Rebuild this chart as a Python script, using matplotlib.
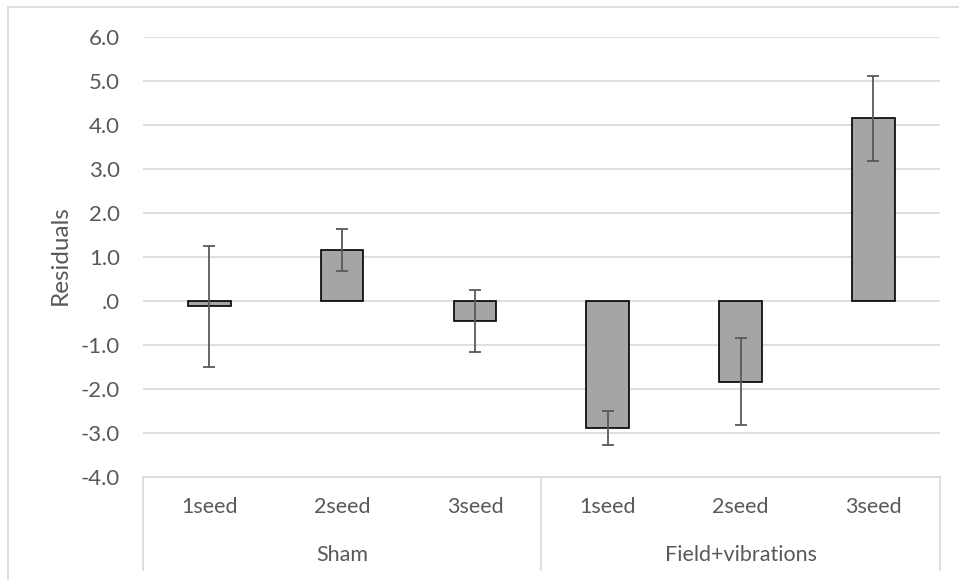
import matplotlib
matplotlib.use("Agg")
import matplotlib.pyplot as plt
from matplotlib.patches import Rectangle
from matplotlib.ticker import FuncFormatter
import numpy as np

plt.rcParams["font.family"] = ["Lato", "DejaVu Sans"]

groups = ["Sham", "Field+vibrations"]
seeds = ["1seed", "2seed", "3seed", "1seed", "2seed", "3seed"]
residuals = [-0.12, 1.16, -0.45, -2.88, -1.83, 4.15]
errors = [1.37, 0.48, 0.70, 0.385, 0.985, 0.965]

TEXT = "#595959"
GRID = "#d9d9d9"


def _fmt(v, pos):
    s = f"{v:.1f}"
    if s in ("0.0", "-0.0"):
        return ".0"
    return s


fig = plt.figure(figsize=(9.59, 5.80), dpi=100)
ax = fig.add_axes([143 / 959, 103 / 580, 796.7 / 959, 440 / 580])

# outer chart frame (cropped at right/bottom in the reference)
fig.patches.append(Rectangle((8 / 959, -0.1), 1.2, 1 - 7 / 580 + 0.1,
                             transform=fig.transFigure, fill=False,
                             edgecolor=GRID, linewidth=1.2))

x = np.arange(len(seeds))
ax.bar(x, residuals, width=0.32, color="#a5a5a5", edgecolor="black",
       linewidth=1.2, zorder=3)
ax.errorbar(x, residuals, yerr=errors, fmt="none", ecolor=TEXT,
            elinewidth=1.3, capsize=4.4, capthick=1.3, zorder=4)

ax.set_xlim(-0.5, len(seeds) - 0.5)
ax.set_ylim(-4, 6)
ax.set_yticks(np.arange(-4, 7, 1))
ax.yaxis.set_major_formatter(FuncFormatter(_fmt))
ax.grid(axis="y", color=GRID, linewidth=1.2, zorder=0)
ax.set_axisbelow(True)
ax.tick_params(axis="y", length=0, pad=16.5, labelsize=16, labelcolor=TEXT)
ax.set_xticks([])
for side in ("top", "right", "left"):
    ax.spines[side].set_visible(False)
ax.spines["bottom"].set_color(GRID)
ax.spines["bottom"].set_linewidth(1.2)

# multi-level category axis
depth = (570 - 477) / 440
for xa in (0, 0.5, 1):
    ax.plot([xa, xa], [0, -depth], transform=ax.transAxes, color=GRID,
            linewidth=1.2, clip_on=False)
for i, s in enumerate(seeds):
    ax.text((i + 0.5) / len(seeds), -30 / 440, s, transform=ax.transAxes,
            ha="center", va="center", fontsize=15.5, color=TEXT)
for j, g in enumerate(groups):
    ax.text(0.25 + 0.5 * j, -78 / 440, g, transform=ax.transAxes,
            ha="center", va="center", fontsize=15.5, color=TEXT)

fig.text(60 / 959, 1 - 255 / 580, "Residuals", rotation=90, ha="center",
         va="center", fontsize=17.5, color=TEXT)

fig.savefig("out.png", dpi=100)
plt.close(fig)
